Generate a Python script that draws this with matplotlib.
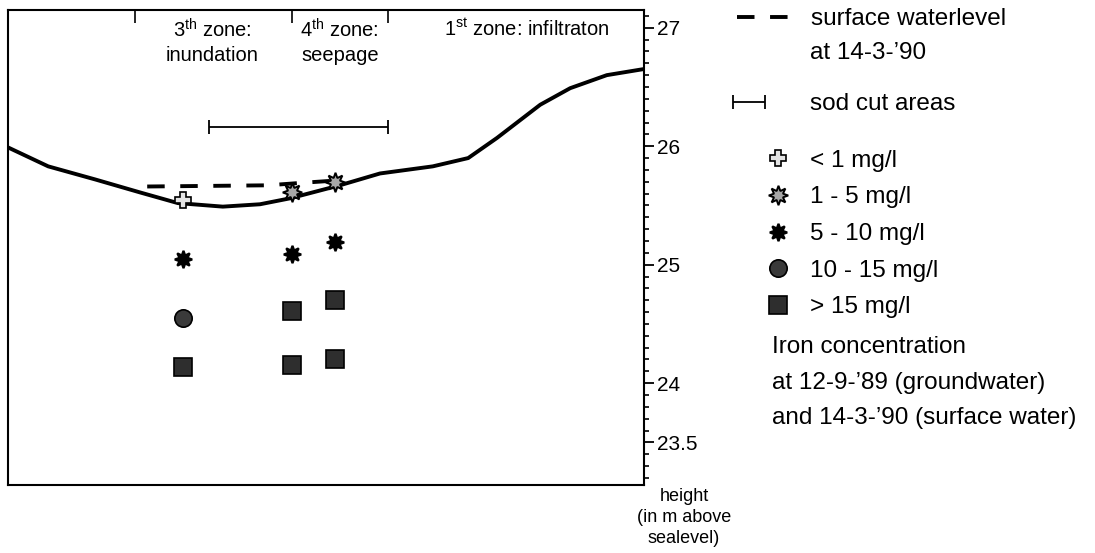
import numpy as np
import matplotlib
matplotlib.use("Agg")
import matplotlib.pyplot as plt
from matplotlib.container import ErrorbarContainer
from matplotlib.legend_handler import HandlerErrorbar

plt.rcParams['font.family'] = ['Liberation Sans', 'DejaVu Sans']
plt.rcParams['mathtext.fontset'] = 'custom'
plt.rcParams['mathtext.rm'] = 'Liberation Sans'

# distance along the transect (arbitrary m) and heights (m above sealevel)
ground_x = [0, 6.7, 14.5, 22.0, 28.3, 35.8, 42.0, 47.0, 55.3, 62.0, 70.8, 76.7, 81.5, 88.7, 93.7, 99.8, 105.8]
ground_h = [25.99, 25.83, 25.72, 25.61, 25.52, 25.49, 25.51, 25.56, 25.67, 25.77, 25.83, 25.90, 26.07, 26.35, 26.49, 26.60, 26.65]

water_x = [23.2, 43.3, 48.7, 54.5]
water_h = [25.66, 25.67, 25.69, 25.71]

sod_start, sod_end, sod_h = 33.5, 63.3, 26.16

zone_bounds = [21.2, 47.3, 63.3]
zone_x = [34.0, 55.3, 86.5]
zone_labels = ['3$^{\\mathrm{th}}$ zone:\ninundation',
               '4$^{\\mathrm{th}}$ zone:\nseepage',
               '1$^{\\mathrm{st}}$ zone: infiltraton']

# iron concentration classes
lt1_x, lt1_h = [29.2], [25.55]
c1_5_x, c1_5_h = [47.3, 54.5], [25.61, 25.70]
c5_10_x, c5_10_h = [29.2, 47.3, 54.5], [25.05, 25.09, 25.19]
c10_15_x, c10_15_h = [29.2], [24.55]
gt15_x = [29.2, 47.3, 47.3, 54.5, 54.5]
gt15_h = [24.14, 24.61, 24.15, 24.70, 24.20]

class_labels = ['< 1 mg/l', '1 - 5 mg/l', '5 - 10 mg/l', '10 - 15 mg/l', '> 15 mg/l']
ytick_vals = [23.5, 24, 25, 26, 27]
ytick_labels = ['23.5', '24', '25', '26', '27']

fig = plt.figure(figsize=(10.95, 5.53), dpi=100)
ax = fig.add_axes([8 / 1095, 1 - 485 / 553, 636 / 1095, 475 / 553])

ax.plot(ground_x, ground_h, color='black', lw=2.8, solid_joinstyle='round')
water_line, = ax.plot(water_x, water_h, color='black', lw=2.8, linestyle=(0, (4.5, 4)))
sod = ax.errorbar([(sod_start + sod_end) / 2], [sod_h], xerr=[(sod_end - sod_start) / 2],
                  fmt='none', ecolor='black', elinewidth=1.3, capsize=5, capthick=1.3)

m_lt1, = ax.plot(lt1_x, lt1_h, 'P', ms=11, mfc='#e4e4e4', mec='black', mew=1.2, ls='none')
m_15, = ax.plot(c1_5_x, c1_5_h, marker=(8, 1, 0), ms=14, mfc='#a8a8a8', mec='black', mew=1.4, ls='none')
m_510, = ax.plot(c5_10_x, c5_10_h, marker=(8, 1, 0), ms=12.5, mfc='black', mec='black', mew=1.6, ls='none')
m_1015, = ax.plot(c10_15_x, c10_15_h, 'o', ms=12.5, mfc='#3a3a3a', mec='black', mew=1.2, ls='none')
m_gt15, = ax.plot(gt15_x, gt15_h, 's', ms=12.5, mfc='#2e2e2e', mec='black', mew=1.2, ls='none')

for x, lab in zip(zone_x, zone_labels):
    ax.text(x, 0.983, lab, transform=ax.get_xaxis_transform(), ha='center', va='top',
            fontsize=14.5, linespacing=1.3)

ax.set_xlim(0, 106)
ax.set_ylim(23.14, 27.15)

ax.xaxis.tick_top()
ax.set_xticks(zone_bounds)
ax.set_xticklabels([])
ax.tick_params(axis='x', direction='in', length=9, width=1.2)

ax.yaxis.tick_right()
ax.set_yticks(ytick_vals)
ax.set_yticklabels(ytick_labels)
ax.set_yticks(np.arange(23.2, 27.15, 0.1), minor=True)
ax.tick_params(axis='y', which='major', direction='out', length=7, width=1.3, labelsize=15, pad=2)
ax.tick_params(axis='y', which='minor', direction='out', length=3.5, width=1.2)

for s in ax.spines.values():
    s.set_linewidth(1.5)

ax.yaxis.set_label_position('right')
ax.set_ylabel('height\n(in m above\nsealevel)', rotation=0, fontsize=13, ha='center', va='top',
              linespacing=1.3)
ax.yaxis.set_label_coords(1.063, -0.006)

# legends
fs = 17.5
leg_a = fig.legend([water_line], ['surface waterlevel'], loc='center left',
                   bbox_to_anchor=(737 / 1095, 1 - 19 / 553), frameon=False, fontsize=fs,
                   borderpad=0, borderaxespad=0, handlelength=2.2, handletextpad=0.85)
leg_b = fig.legend([sod], ['sod cut areas'], loc='center left',
                   bbox_to_anchor=(733 / 1095, 1 - 104 / 553), frameon=False, fontsize=fs,
                   borderpad=0, borderaxespad=0, handlelength=1.32, handletextpad=1.85,
                   handler_map={ErrorbarContainer: HandlerErrorbar(xerr_size=0.66)})
leg_c = fig.legend([m_lt1, m_15, m_510, m_1015, m_gt15], class_labels, loc='center left',
                   bbox_to_anchor=(766 / 1095, 1 - 234 / 553), frameon=False, fontsize=fs,
                   borderpad=0, borderaxespad=0, handlelength=1.0, handletextpad=0.8,
                   labelspacing=0.6, numpoints=1)

fig.text(810 / 1095, 1 - 53 / 553, 'at 14-3-’90', fontsize=fs, va='center', ha='left')
fig.text(772 / 1095, 1 - 347 / 553, 'Iron concentration', fontsize=fs, va='center', ha='left')
fig.text(772 / 1095, 1 - 383 / 553, 'at 12-9-’89 (groundwater)', fontsize=fs, va='center', ha='left')
fig.text(772 / 1095, 1 - 418 / 553, 'and 14-3-’90 (surface water)', fontsize=fs, va='center', ha='left')

fig.savefig('out.png', dpi=100)
